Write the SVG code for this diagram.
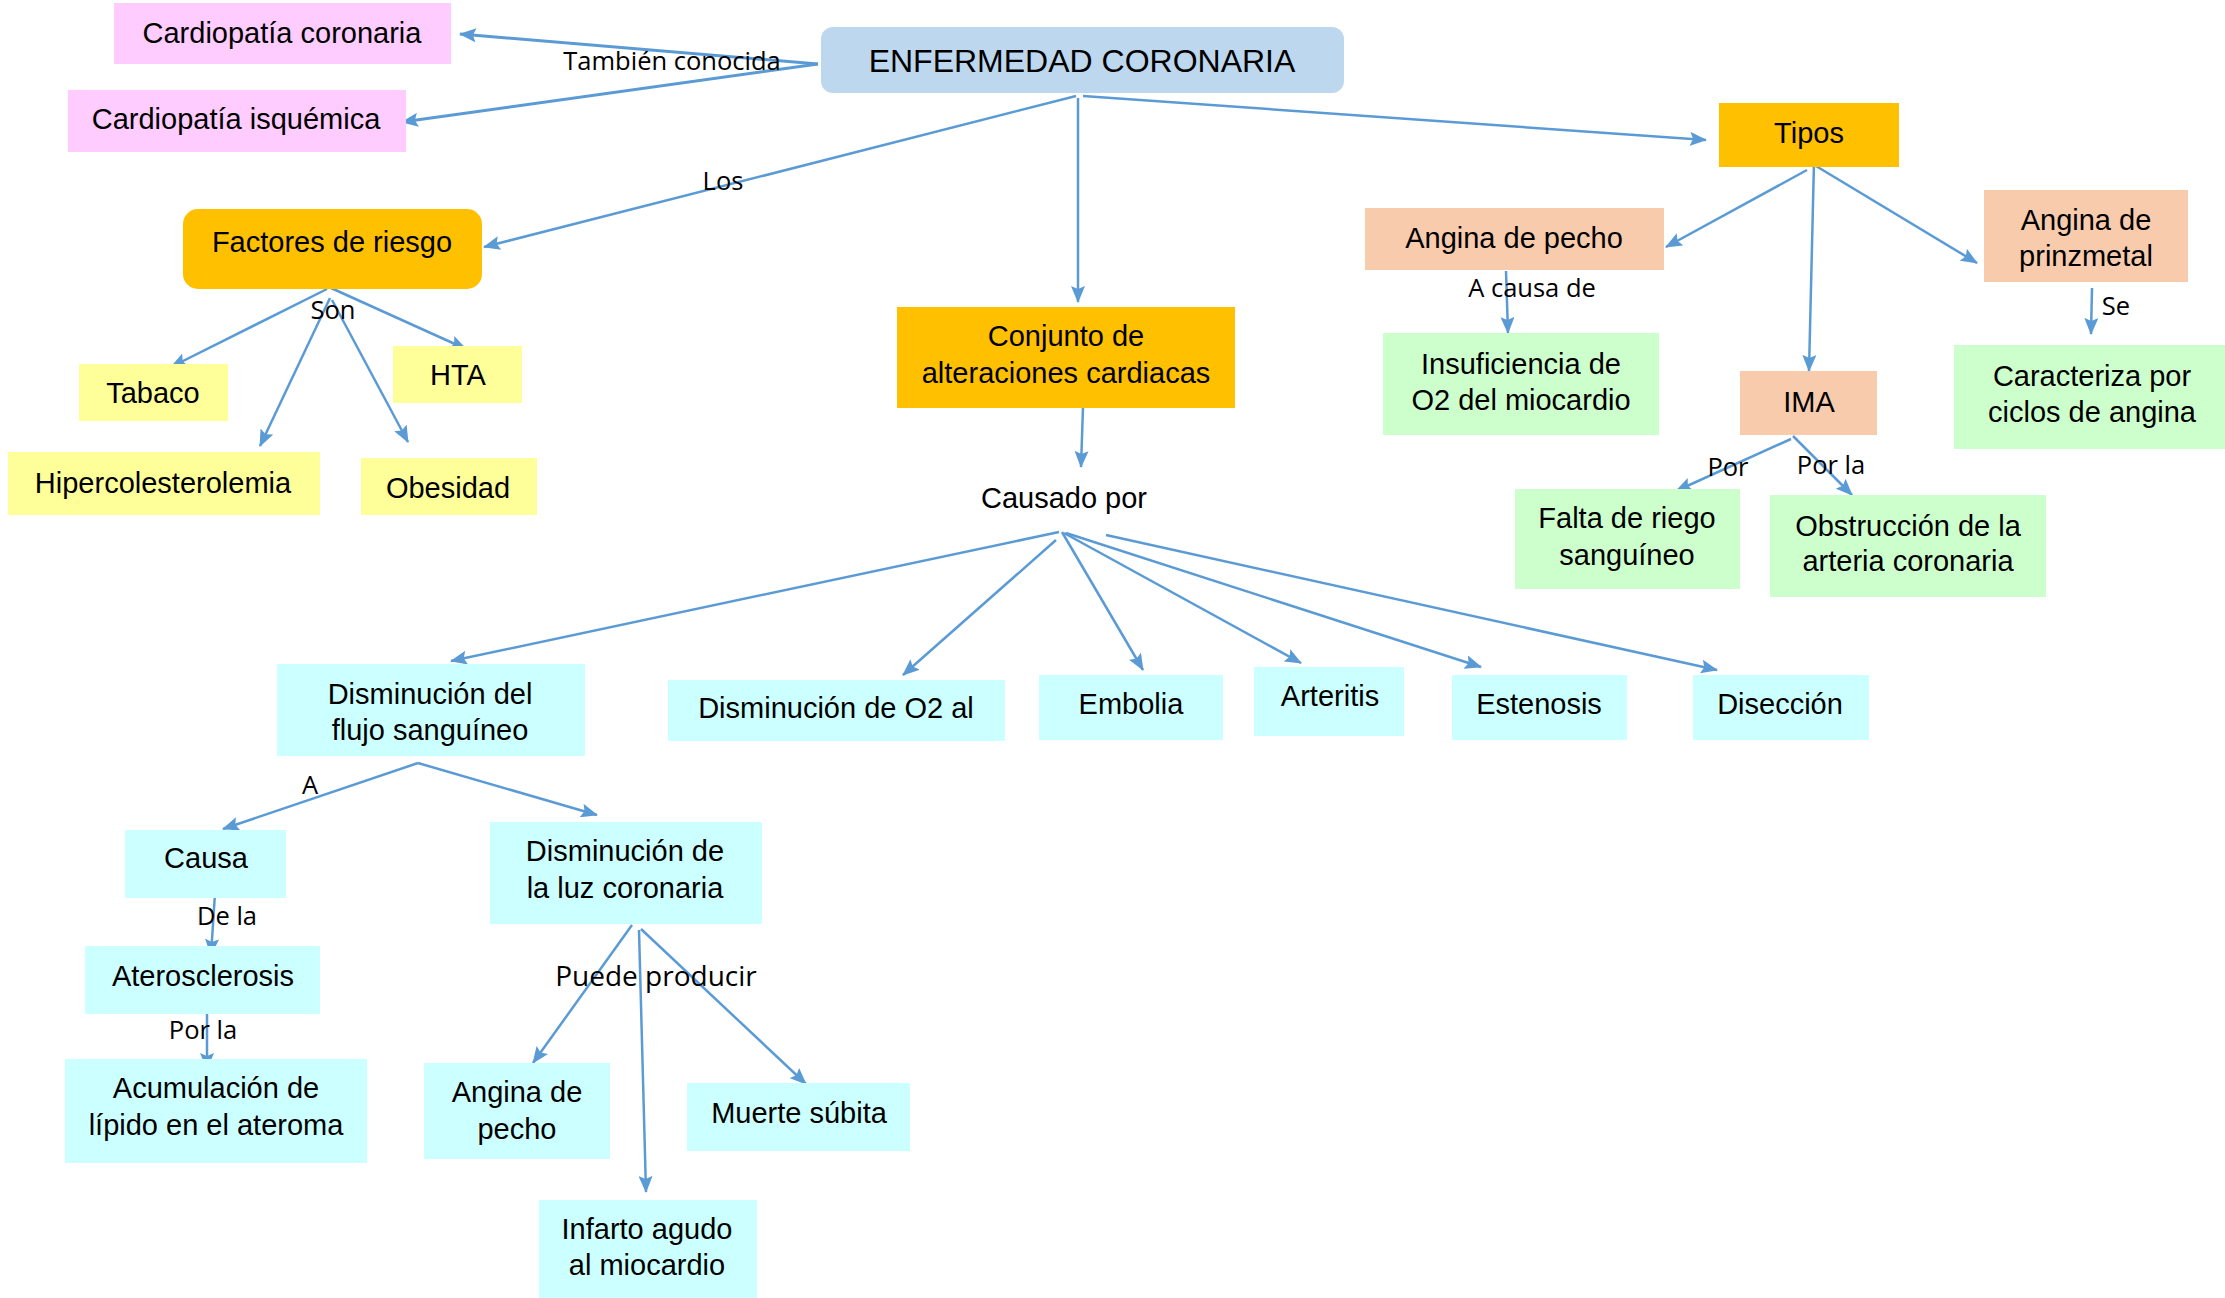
<svg xmlns="http://www.w3.org/2000/svg" width="2225" height="1298" viewBox="0 0 2225 1298">
<style>
.t{font-family:"Liberation Sans",Arial,sans-serif;font-size:29px;fill:#000;text-anchor:middle}
.l{font-family:"Open Sans","Noto Sans",sans-serif;font-size:25.5px;fill:#000;text-anchor:middle}
.c{stroke:#5B9BD5;stroke-width:2.5;fill:none;marker-end:url(#ah)}
.pink{fill:#FFCCFF}.gold{fill:#FFC000}.blue{fill:#BDD7EE}.peach{fill:#F8CBAD}.green{fill:#CCFFCC}.cyan{fill:#CCFFFF}.yel{fill:#FFFF99}
</style>
<defs>
<marker id="ah" markerUnits="userSpaceOnUse" markerWidth="18" markerHeight="14" refX="16" refY="7" orient="auto">
<path d="M0,0 L17,7 L0,14 L3,7 z" fill="#5B9BD5"/>
</marker>
</defs>
<rect width="2225" height="1298" fill="#fff"/>
<g id="connectors">
<line class="c" x1="818" y1="64" x2="460" y2="34" style="stroke-width:3"/>
<line class="c" x1="818" y1="64" x2="402" y2="122" style="stroke-width:3"/>
<line class="c" x1="1076" y1="96" x2="484" y2="247"/>
<line class="c" x1="1078" y1="98" x2="1078" y2="302"/>
<line class="c" x1="1083" y1="96" x2="1706" y2="140"/>
<line class="c" x1="327" y1="289" x2="171" y2="367"/>
<line class="c" x1="331" y1="288" x2="466" y2="349"/>
<line class="c" x1="330" y1="298" x2="260" y2="446"/>
<line class="c" x1="332" y1="300" x2="408" y2="442"/>
<line class="c" x1="1807" y1="170" x2="1666" y2="247"/>
<line class="c" x1="1814" y1="162" x2="1809" y2="371"/>
<line class="c" x1="1816" y1="166" x2="1977" y2="263"/>
<line class="c" x1="1506" y1="271" x2="1508" y2="333"/>
<line class="c" x1="2092" y1="288" x2="2091" y2="334"/>
<line class="c" x1="1791" y1="439" x2="1676" y2="491"/>
<line class="c" x1="1793" y1="436" x2="1852" y2="495"/>
<line class="c" x1="1083" y1="407" x2="1081" y2="467"/>
<line class="c" x1="1059" y1="532" x2="451" y2="661"/>
<line class="c" x1="1056" y1="540" x2="903" y2="675"/>
<line class="c" x1="1062" y1="532" x2="1143" y2="670"/>
<line class="c" x1="1064" y1="533" x2="1301" y2="663"/>
<line class="c" x1="1066" y1="533" x2="1481" y2="667"/>
<line class="c" x1="1106" y1="535" x2="1717" y2="670"/>
<line class="c" x1="418" y1="763" x2="223" y2="829"/>
<line class="c" x1="418" y1="763" x2="597" y2="815"/>
<line class="c" x1="215" y1="893" x2="211" y2="955"/>
<line class="c" x1="207" y1="1013" x2="207" y2="1069"/>
<line class="c" x1="632" y1="925" x2="533" y2="1063"/>
<line class="c" x1="639" y1="930" x2="646" y2="1192"/>
<line class="c" x1="641" y1="929" x2="806" y2="1084"/>
<text class="l" x="672" y="70">También conocida</text>
<text class="l" x="723" y="190">Los</text>
<text class="l" x="333" y="319">Son</text>
<text class="l" x="1532" y="297">A causa de</text>
<text class="l" x="2116" y="315">Se</text>
<text class="l" x="1728" y="476">Por</text>
<text class="l" x="1831" y="474">Por la</text>
<text class="l" x="310" y="794">A</text>
<text class="l" x="227" y="925">De la</text>
<text class="l" x="203" y="1039">Por la</text>
<text class="l" style="font-size:28px" x="656" y="986">Puede producir</text>
</g>
<g id="n-enfermedad"><rect class="blue" x="821" y="27" width="523" height="66" rx="12"/><text class="t" style="font-size:32px" x="1082" y="72">ENFERMEDAD CORONARIA</text></g>
<g id="n-cardio-coronaria"><rect class="pink" x="114" y="3" width="337" height="61"/><text class="t" x="282" y="43">Cardiopatía coronaria</text></g>
<g id="n-cardio-isquemica"><rect class="pink" x="68" y="90" width="338" height="62"/><text class="t" x="236" y="129">Cardiopatía isquémica</text></g>
<g id="n-factores"><rect class="gold" x="183" y="209" width="299" height="80" rx="15"/><text class="t" x="332" y="252">Factores de riesgo</text></g>
<g id="n-tabaco"><rect class="yel" x="79" y="364" width="149" height="57"/><text class="t" x="153" y="403">Tabaco</text></g>
<g id="n-hta"><rect class="yel" x="393" y="346" width="129" height="57"/><text class="t" x="458" y="385">HTA</text></g>
<g id="n-hiper"><rect class="yel" x="8" y="452" width="312" height="63"/><text class="t" x="163" y="493">Hipercolesterolemia</text></g>
<g id="n-obesidad"><rect class="yel" x="361" y="458" width="176" height="57"/><text class="t" x="448" y="498">Obesidad</text></g>
<g id="n-conjunto"><rect class="gold" x="897" y="307" width="338" height="101"/><text class="t" x="1066" y="346">Conjunto de</text><text class="t" x="1066" y="383">alteraciones cardiacas</text></g>
<g id="n-causado"><text class="t" x="1064" y="508">Causado por</text></g>
<g id="n-tipos"><rect class="gold" x="1719" y="103" width="180" height="64"/><text class="t" x="1809" y="143">Tipos</text></g>
<g id="n-angina-pecho"><rect class="peach" x="1365" y="208" width="299" height="62"/><text class="t" x="1514" y="248">Angina de pecho</text></g>
<g id="n-prinzmetal"><rect class="peach" x="1984" y="190" width="204" height="92"/><text class="t" x="2086" y="230">Angina de</text><text class="t" x="2086" y="266">prinzmetal</text></g>
<g id="n-insuficiencia"><rect class="green" x="1383" y="333" width="276" height="102"/><text class="t" x="1521" y="374">Insuficiencia de</text><text class="t" x="1521" y="410">O2 del miocardio</text></g>
<g id="n-ima"><rect class="peach" x="1740" y="371" width="137" height="64"/><text class="t" x="1809" y="412">IMA</text></g>
<g id="n-caracteriza"><rect class="green" x="1954" y="345" width="271" height="104"/><text class="t" x="2092" y="386">Caracteriza por</text><text class="t" x="2092" y="422">ciclos de angina</text></g>
<g id="n-falta"><rect class="green" x="1515" y="489" width="225" height="100"/><text class="t" x="1627" y="528">Falta de riego</text><text class="t" x="1627" y="565">sanguíneo</text></g>
<g id="n-obstruccion"><rect class="green" x="1770" y="495" width="276" height="102"/><text class="t" x="1908" y="536">Obstrucción de la</text><text class="t" x="1908" y="571">arteria coronaria</text></g>
<g id="n-flujo"><rect class="cyan" x="277" y="664" width="308" height="92"/><text class="t" x="430" y="704">Disminución del</text><text class="t" x="430" y="740">flujo sanguíneo</text></g>
<g id="n-o2"><rect class="cyan" x="668" y="680" width="337" height="61"/><text class="t" x="836" y="718">Disminución de O2 al</text></g>
<g id="n-embolia"><rect class="cyan" x="1039" y="675" width="184" height="65"/><text class="t" x="1131" y="714">Embolia</text></g>
<g id="n-arteritis"><rect class="cyan" x="1254" y="667" width="150" height="69"/><text class="t" x="1330" y="706">Arteritis</text></g>
<g id="n-estenosis"><rect class="cyan" x="1452" y="675" width="175" height="65"/><text class="t" x="1539" y="714">Estenosis</text></g>
<g id="n-diseccion"><rect class="cyan" x="1693" y="675" width="176" height="65"/><text class="t" x="1780" y="714">Disección</text></g>
<g id="n-causa"><rect class="cyan" x="125" y="830" width="161" height="68"/><text class="t" x="206" y="868">Causa</text></g>
<g id="n-luz"><rect class="cyan" x="490" y="822" width="272" height="102"/><text class="t" x="625" y="861">Disminución de</text><text class="t" x="625" y="898">la luz coronaria</text></g>
<g id="n-ateros"><rect class="cyan" x="85" y="946" width="235" height="68"/><text class="t" x="203" y="986">Aterosclerosis</text></g>
<g id="n-acumulacion"><rect class="cyan" x="65" y="1059" width="302" height="104"/><text class="t" x="216" y="1098">Acumulación de</text><text class="t" x="216" y="1135">lípido en el ateroma</text></g>
<g id="n-angina-pecho2"><rect class="cyan" x="424" y="1063" width="186" height="96"/><text class="t" x="517" y="1102">Angina de</text><text class="t" x="517" y="1139">pecho</text></g>
<g id="n-muerte"><rect class="cyan" x="687" y="1083" width="223" height="68"/><text class="t" x="799" y="1123">Muerte súbita</text></g>
<g id="n-infarto"><rect class="cyan" x="539" y="1200" width="218" height="98"/><text class="t" x="647" y="1239">Infarto agudo</text><text class="t" x="647" y="1275">al miocardio</text></g>
</svg>
